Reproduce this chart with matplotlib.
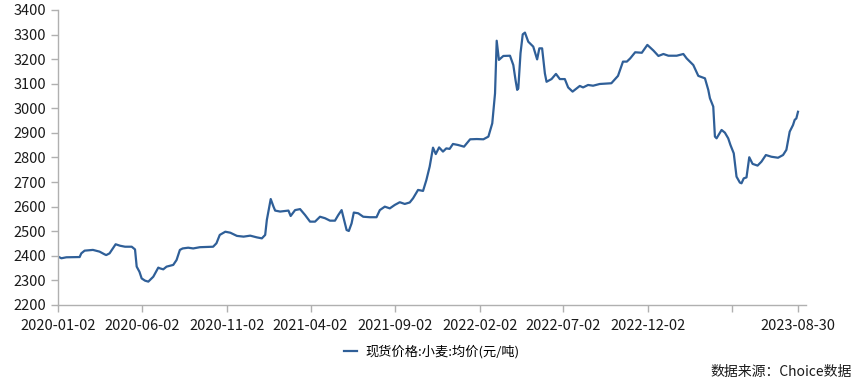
import pandas as pd
import matplotlib
matplotlib.use("Agg")
from matplotlib import pyplot as plt

plt.rcParams["font.family"] = ["Noto Sans CJK SC", "DejaVu Sans"]

# 现货价格:小麦:均价(元/吨)
dates = [
    "2020-01-02", "2020-01-08", "2020-01-17", "2020-02-10", "2020-02-13", "2020-02-19",
    "2020-03-05", "2020-03-17", "2020-03-26", "2020-03-29", "2020-04-04", "2020-04-10",
    "2020-04-15", "2020-04-23", "2020-05-02", "2020-05-14", "2020-05-20", "2020-05-23",
    "2020-05-28", "2020-06-01", "2020-06-07", "2020-06-13", "2020-06-22", "2020-07-01",
    "2020-07-04", "2020-07-10", "2020-07-16", "2020-07-28", "2020-08-03", "2020-08-09",
    "2020-08-14", "2020-08-24", "2020-09-02", "2020-09-14", "2020-10-08", "2020-10-14",
    "2020-10-20", "2020-10-30", "2020-11-08", "2020-11-20", "2020-12-02", "2020-12-14",
    "2020-12-26", "2021-01-04", "2021-01-10", "2021-01-13", "2021-01-20", "2021-01-25",
    "2021-01-28", "2021-02-06", "2021-02-21", "2021-02-25", "2021-03-05", "2021-03-14",
    "2021-03-23", "2021-04-01", "2021-04-10", "2021-04-19", "2021-04-28", "2021-05-07",
    "2021-05-16", "2021-05-22", "2021-05-28", "2021-05-31", "2021-06-06", "2021-06-10",
    "2021-06-15", "2021-06-19", "2021-06-27", "2021-07-06", "2021-07-18", "2021-07-30",
    "2021-08-05", "2021-08-14", "2021-08-23", "2021-09-01", "2021-09-10", "2021-09-19",
    "2021-09-28", "2021-10-04", "2021-10-13", "2021-10-22", "2021-10-28", "2021-11-03",
    "2021-11-09", "2021-11-14", "2021-11-20", "2021-11-27", "2021-12-03", "2021-12-09",
    "2021-12-15", "2021-12-24", "2022-01-04", "2022-01-15", "2022-01-27", "2022-02-08",
    "2022-02-17", "2022-02-24", "2022-03-01", "2022-03-04", "2022-03-08", "2022-03-16",
    "2022-03-28", "2022-04-03", "2022-04-07", "2022-04-10", "2022-04-12", "2022-04-16",
    "2022-04-20", "2022-04-24", "2022-04-30", "2022-05-09", "2022-05-16", "2022-05-20",
    "2022-05-25", "2022-05-30", "2022-06-02", "2022-06-11", "2022-06-19", "2022-06-26",
    "2022-07-05", "2022-07-11", "2022-07-19", "2022-08-01", "2022-08-07", "2022-08-16",
    "2022-08-25", "2022-09-06", "2022-09-27", "2022-10-09", "2022-10-18", "2022-10-25",
    "2022-10-31", "2022-11-09", "2022-11-21", "2022-12-01", "2022-12-12", "2022-12-21",
    "2022-12-30", "2023-01-08", "2023-01-23", "2023-02-04", "2023-02-10", "2023-02-22",
    "2023-03-03", "2023-03-15", "2023-03-21", "2023-03-24", "2023-03-30", "2023-04-02",
    "2023-04-05", "2023-04-14", "2023-04-20", "2023-04-26", "2023-04-30", "2023-05-06",
    "2023-05-11", "2023-05-17", "2023-05-20", "2023-05-24", "2023-05-29", "2023-06-03",
    "2023-06-09", "2023-06-18", "2023-06-25", "2023-07-03", "2023-07-13", "2023-07-25",
    "2023-08-03", "2023-08-09", "2023-08-15", "2023-08-21", "2023-08-24", "2023-08-27",
    "2023-08-30",
]
prices = [
    2397, 2390, 2394, 2395, 2410, 2421,
    2424, 2417, 2406, 2403, 2410, 2430,
    2447, 2441, 2437, 2437, 2426, 2356,
    2335, 2308, 2299, 2295, 2315, 2352,
    2349, 2345, 2356, 2363, 2383, 2424,
    2430, 2433, 2430, 2435, 2437, 2451,
    2485, 2498, 2494, 2481, 2478, 2482,
    2475, 2471, 2485, 2546, 2631, 2600,
    2584, 2580, 2584, 2562, 2586, 2590,
    2566, 2539, 2539, 2559, 2553, 2543,
    2543, 2566, 2586, 2559, 2505, 2501,
    2532, 2576, 2573, 2559, 2557, 2557,
    2586, 2600, 2593, 2607, 2618, 2611,
    2617, 2634, 2668, 2664, 2708, 2763,
    2840, 2814, 2841, 2824, 2837, 2835,
    2855, 2851, 2844, 2874, 2875, 2874,
    2885, 2939, 3061, 3275, 3197, 3213,
    3214, 3176, 3115, 3075, 3081, 3224,
    3301, 3308, 3271, 3251, 3199, 3244,
    3244, 3142, 3108, 3119, 3140, 3119,
    3119, 3085, 3068, 3091, 3085, 3095,
    3092, 3099, 3102, 3132, 3190, 3190,
    3203, 3228, 3226, 3258, 3235, 3213,
    3221, 3214, 3214, 3221, 3203, 3176,
    3132, 3122, 3075, 3041, 3007, 2885,
    2878, 2912, 2901, 2878, 2851, 2817,
    2722, 2698, 2695, 2715, 2719, 2801,
    2774, 2767, 2783, 2810, 2803, 2799,
    2810, 2831, 2905, 2932, 2953, 2959,
    2986,
]

tick_dates = ["2020-01-02", "2020-06-02", "2020-11-02", "2021-04-02", "2021-09-02",
              "2022-02-02", "2022-07-02", "2022-12-02", "2023-05-02", "2023-08-30"]
tick_labels = ["2020-01-02", "2020-06-02", "2020-11-02", "2021-04-02", "2021-09-02",
               "2022-02-02", "2022-07-02", "2022-12-02", "", "2023-08-30"]

series_name = "现货价格:小麦:均价(元/吨)"
source_text = "数据来源：Choice数据"

x = pd.to_datetime(dates)

fig = plt.figure(figsize=(8.56, 3.92), dpi=100)
ax = fig.add_axes([0.0678, 0.222, 0.8735, 0.7525])

line_color = "#2f5f98"
axis_color = "#b0b0b0"

ax.plot(x, prices, color=line_color, linewidth=1.6, label=series_name)

ax.set_xlim(pd.Timestamp("2020-01-02"), pd.Timestamp("2023-09-13"))
ax.set_ylim(2200, 3400)
ax.set_yticks(range(2200, 3401, 100))
ax.set_xticks(pd.to_datetime(tick_dates))
ax.set_xticklabels(tick_labels)

for side in ["top", "right"]:
    ax.spines[side].set_visible(False)
for side in ["left", "bottom"]:
    ax.spines[side].set_color(axis_color)
    ax.spines[side].set_linewidth(1.0)

ax.tick_params(axis="both", colors=axis_color, length=5, width=1.0,
               labelcolor="#1a1a1a", labelsize=10.5)
ax.tick_params(axis="x", pad=5)

ax.legend(loc="center", bbox_to_anchor=(0.5, -0.16), frameon=False,
          fontsize=9.5, handlelength=1.0, handletextpad=0.6)

fig.text(0.995, 0.051, source_text, ha="right", va="center", fontsize=10,
         color="#1a1a1a")

fig.savefig("out.png", dpi=100)
